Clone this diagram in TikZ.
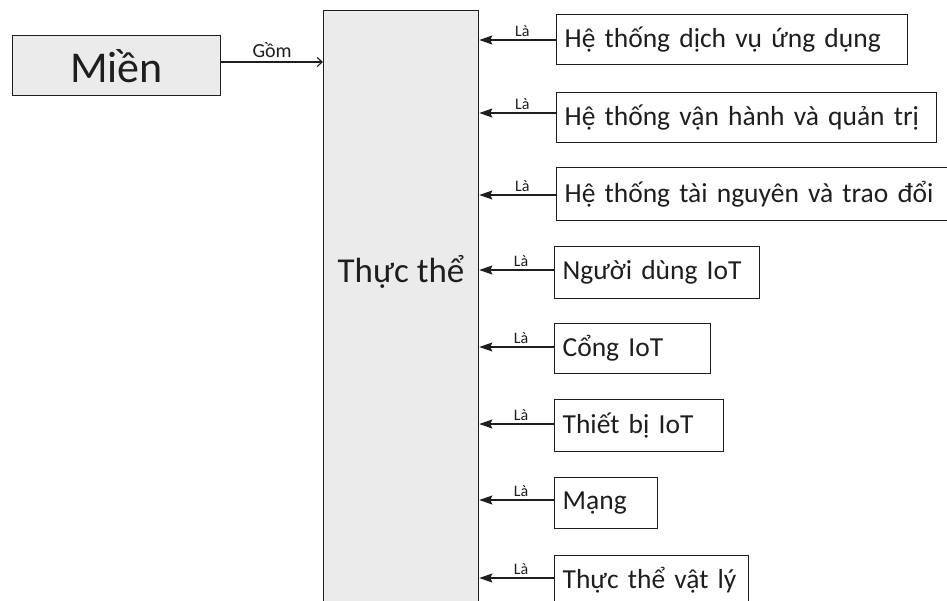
\documentclass[tikz,border=0pt]{standalone}
\usepackage{fontspec}
\setmainfont{Carlito}
\usetikzlibrary{arrows.meta}
\definecolor{boxgray}{HTML}{EBEBEB}
\definecolor{ink}{HTML}{1E1E1E}
\tikzset{
  graybox/.style={draw=ink, line width=1.3pt, fill=boxgray, inner sep=0pt},
  itembox/.style={draw=ink, line width=1.3pt, fill=white, anchor=north west,
    minimum height=50pt, inner xsep=8pt, inner ysep=0pt, align=left,
    font=\fontsize{27.5}{30}\selectfont, text=ink},
  isarrow/.style={draw=ink, line width=1.4pt, -{Stealth[length=13pt,width=9pt,inset=2pt]}},
  islabel/.style={font=\fontsize{16}{17}\selectfont, text=ink, above, inner sep=3pt},
}
\begin{document}
\begin{tikzpicture}[x=1pt,y=-1pt]
\useasboundingbox (0,0) rectangle (947,600);
\clip (0,0) rectangle (947,600);
\fill[white] (0,0) rectangle (947,600);
% Domain
\node[graybox, minimum width=208pt, minimum height=60pt, anchor=north west,
  font=\fontsize{44}{48}\selectfont, text=ink] (D) at (12,35) {Miền};
% Entity column
\node[graybox, minimum width=155pt, minimum height=620pt, anchor=north west] (T) at (323,10) {};
\node[font=\fontsize{35}{38}\selectfont, text=ink] (Tt) at (401,272) {Thực thể};
% Gom arrow
\coordinate (G) at (T.west |- 0,62);
\draw[draw=ink, line width=1.1pt, -{Straight Barb[length=5pt,width=9pt]}] (D.east |- G) -- (G)
  node[midway, above, font=\fontsize{20}{22}\selectfont, text=ink, inner sep=4pt] (Gl) {Gồm};
% Items
\node[itembox, text width=335pt] (b1) at (556,14) {Hệ thống dịch vụ ứng dụng};
\node[itembox, text width=364pt] (b2) at (556,92) {Hệ thống vận hành và quản trị};
\node[itembox, text width=400pt, minimum height=53pt] (b3) at (556,167) {Hệ thống tài nguyên và trao đổi};
\node[itembox, text width=189pt, minimum height=52pt] (b4) at (554,246) {Người dùng IoT};
\node[itembox, text width=140pt] (b5) at (554,323) {Cổng IoT};
\node[itembox, text width=153pt, minimum height=52pt] (b6) at (554,399) {Thiết bị IoT};
\node[itembox, text width=87pt, minimum height=51pt] (b7) at (554,477) {Mạng};
\node[itembox, text width=178pt, minimum height=50pt] (b8) at (554,555) {Thực thể vật lý};
% Arrows
\draw[isarrow] (b1.west |- 0,40) -- (T.east |- 0,40) node[islabel, pos=0.44] (l1) {Là};
\draw[isarrow] (b2.west |- 0,113) -- (T.east |- 0,113) node[islabel, pos=0.44] (l2) {Là};
\draw[isarrow] (b3.west |- 0,195) -- (T.east |- 0,195) node[islabel, pos=0.44] (l3) {Là};
\draw[isarrow] (b4.west |- 0,270) -- (T.east |- 0,270) node[islabel, pos=0.44] (l4) {Là};
\draw[isarrow] (b5.west |- 0,347) -- (T.east |- 0,347) node[islabel, pos=0.44] (l5) {Là};
\draw[isarrow] (b6.west |- 0,424) -- (T.east |- 0,424) node[islabel, pos=0.44] (l6) {Là};
\draw[isarrow] (b7.west |- 0,500) -- (T.east |- 0,500) node[islabel, pos=0.44] (l7) {Là};
\draw[isarrow] (b8.west |- 0,578) -- (T.east |- 0,578) node[islabel, pos=0.44] (l8) {Là};
\end{tikzpicture}
\end{document}
